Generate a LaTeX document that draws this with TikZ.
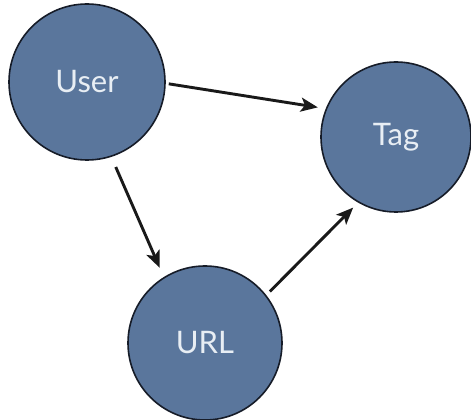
\documentclass[tikz,border=0pt]{standalone}
\usepackage{fontspec}
\setmainfont{Lato}
\usetikzlibrary{arrows.meta}
\definecolor{nodefill}{RGB}{90,118,156}
\definecolor{nodeline}{RGB}{22,28,40}
\definecolor{nodetext}{RGB}{232,238,244}
\tikzset{
  entity/.style={circle, draw=nodeline, line width=1.6pt, fill=nodefill,
    inner sep=0pt, text=nodetext, font=\fontsize{31}{33}\selectfont},
  link/.style={line width=2.9pt, draw=black!90,
    -{Stealth[length=17pt,width=14pt,inset=4pt]}}
}
\begin{document}
\begin{tikzpicture}[x=1pt,y=1pt]
\useasboundingbox (0,0) rectangle (471,420);
\node[entity, minimum size=156pt] (user) at (87,338) {User};
\node[entity, minimum size=150pt] (tag)  at (396,283) {Tag};
\node[entity, minimum size=154pt] (url)  at (205,77) {URL};
\draw[link, shorten <=3pt,  shorten >=8pt]  (user.-1)  -- (tag.158);
\draw[link, shorten <=11pt, shorten >=10pt] (user.-72) -- (url.122);
\draw[link, shorten <=5pt,  shorten >=7pt]  (url.38)   -- (tag.240);
\end{tikzpicture}
\end{document}
